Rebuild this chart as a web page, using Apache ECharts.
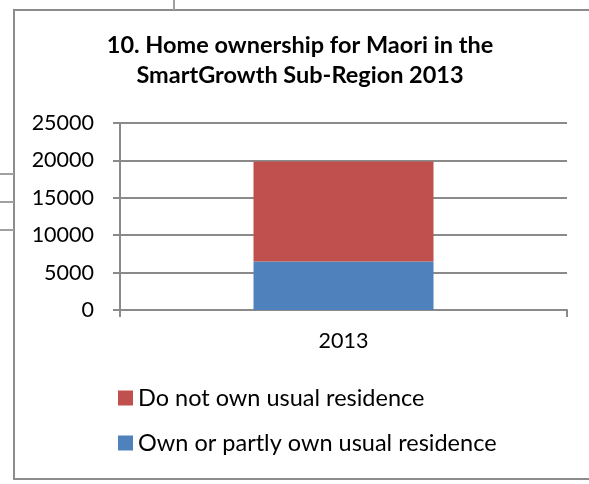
<!DOCTYPE html>
<html>
<head>
<meta charset="utf-8">
<script src="https://cdn.jsdelivr.net/npm/echarts@6/dist/echarts.min.js"></script>
<style>
  html, body { margin: 0; padding: 0; background: #fff; }
  #chart { width: 589px; height: 484px; }
</style>
</head>
<body>
<div id="chart"></div>
<script>
'use strict';
const categories = ['2013'];
const ownValues = [6490];
const notOwnValues = [13350];
const yTicks = [0, 5000, 10000, 15000, 20000, 25000];

function init() {
    const chart = echarts.init(document.getElementById('chart'));
    const font = 'Lato, "Open Sans", sans-serif';
    const grey = '#8a8a8a';
    const option = {
        animation: false,
        textStyle: { fontFamily: font },
        title: {
            text: '10. Home ownership for Maori in the\nSmartGrowth Sub-Region 2013',
            left: 300,
            top: 30,
            padding: 0,
            textAlign: 'center',
            textStyle: {
                fontFamily: font,
                fontWeight: 'bold',
                fontSize: 23.5,
                lineHeight: 30,
                color: '#000'
            }
        },
        legend: {
            orient: 'vertical',
            left: 118,
            top: 386,
            padding: 0,
            itemWidth: 15,
            itemHeight: 15,
            itemGap: 21,
            icon: 'rect',
            data: ['Do not own usual residence', 'Own or partly own usual residence'],
            textStyle: {
                fontFamily: font,
                fontSize: 23.5,
                color: '#000'
            }
        },
        grid: {
            left: 120,
            right: 22,
            top: 123,
            bottom: 174,
            containLabel: false
        },
        xAxis: {
            type: 'category',
            data: categories,
            axisLine: { lineStyle: { color: grey, width: 2 } },
            axisTick: { show: true, length: 7, lineStyle: { color: grey, width: 2 } },
            axisLabel: { margin: 20, fontSize: 21.5, color: '#000', fontFamily: font }
        },
        yAxis: {
            type: 'value',
            min: yTicks[0],
            max: yTicks[yTicks.length - 1],
            interval: 5000,
            axisLine: { show: true, lineStyle: { color: grey, width: 2 } },
            axisTick: { show: true, length: 7, lineStyle: { color: grey, width: 2 } },
            axisLabel: {
                margin: 26,
                fontSize: 21.5,
                color: '#000',
                fontFamily: font,
                formatter: (v) => String(v)
            },
            splitLine: { lineStyle: { color: grey, width: 2 } }
        },
        series: [
            {
                name: 'Own or partly own usual residence',
                type: 'bar',
                stack: 'total',
                barWidth: 180,
                data: ownValues,
                itemStyle: { color: '#4f81bd' }
            },
            {
                name: 'Do not own usual residence',
                type: 'bar',
                stack: 'total',
                barWidth: 180,
                data: notOwnValues,
                itemStyle: { color: '#c0504d' }
            }
        ],
        graphic: [
            { type: 'rect', shape: { x: 14, y: 10, width: 600, height: 469 },
              style: { fill: 'none', stroke: '#8c8c8c', lineWidth: 2 }, silent: true },
            { type: 'line', shape: { x1: 174, y1: 0, x2: 174, y2: 10 },
              style: { stroke: '#a0a0a0', lineWidth: 2 }, silent: true },
            { type: 'line', shape: { x1: 0, y1: 174, x2: 14, y2: 174 },
              style: { stroke: '#a0a0a0', lineWidth: 2 }, silent: true },
            { type: 'line', shape: { x1: 0, y1: 202, x2: 14, y2: 202 },
              style: { stroke: '#a0a0a0', lineWidth: 2 }, silent: true },
            { type: 'line', shape: { x1: 0, y1: 230, x2: 14, y2: 230 },
              style: { stroke: '#a0a0a0', lineWidth: 2 }, silent: true }
        ]
    };
    chart.setOption(option);
    window.addEventListener('resize', () => chart.resize());
}

init();
</script>
</body>
</html>
